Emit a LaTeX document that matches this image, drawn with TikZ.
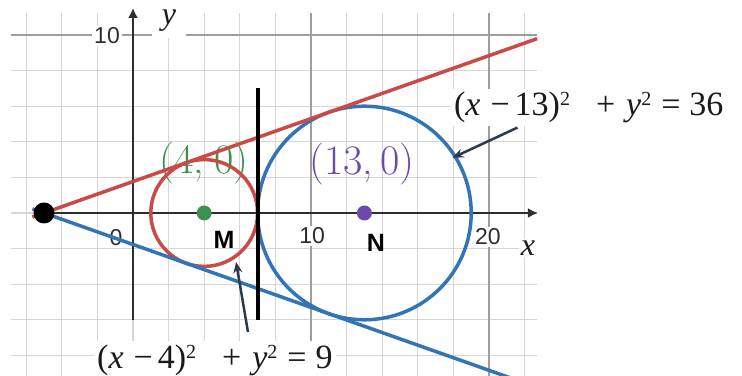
\documentclass[tikz,border=0pt]{standalone}
\usepackage{fontspec}
\newfontfamily\sansf{Liberation Sans}
\newfontfamily\eqf{Liberation Serif}
\usetikzlibrary{arrows.meta}
\definecolor{dred}{HTML}{C94B47}
\definecolor{dblue}{HTML}{3274B5}
\definecolor{dgreen}{HTML}{3F9150}
\definecolor{dpurple}{HTML}{6A4AAE}
\definecolor{minorc}{HTML}{D6D6D6}
\definecolor{majorc}{HTML}{9E9E9E}
\definecolor{axisc}{HTML}{2E2E2E}
\definecolor{navyc}{HTML}{2C3A4F}
\definecolor{eqc}{HTML}{1A1A1A}
\newcommand\sqd{\raisebox{10pt}{\fontsize{20}{20}\selectfont 2}}
\tikzset{
  ticklbl/.style={font=\sansf\fontsize{23}{23}\selectfont, text=axisc, fill=white, inner sep=2pt},
  axlbl/.style={font=\eqf\itshape\fontsize{32}{32}\selectfont, text=eqc, fill=white, inner sep=2pt},
  ptlbl/.style={font=\sansf\bfseries\fontsize{25}{25}\selectfont, text=black},
  coordlbl/.style={font=\fontsize{42}{50}\selectfont},
  eqlbl/.style={font=\eqf\fontsize{34}{40}\selectfont, text=eqc, fill=white, inner sep=3pt, anchor=base west},
  callout/.style={navyc, line width=2.5pt, -{Stealth[length=11pt,width=9pt]}},
  curve/.style={line width=3.5pt},
  minorgrid/.style={minorc, line width=1.2pt},
  majorgrid/.style={majorc, line width=1.2pt},
  axisline/.style={axisc, line width=2.2pt, -{Latex[length=10pt,width=10pt]}},
}
\begin{document}
\begin{tikzpicture}[x=17.8pt,y=17.8pt]
\useasboundingbox (-7.472,-9.157) rectangle (34.213,11.966);
\fill[white] (-7.472,-9.157) rectangle (34.213,11.966);
% grid
\foreach \gx in {-6,-4,...,22} \draw[minorgrid] (\gx,-9.3) -- (\gx,11.24);
\foreach \gy in {-8,-6,...,8} \draw[minorgrid] (-6.85,\gy) -- (22.7,\gy);
\foreach \gx in {10,20} \draw[majorgrid] (\gx,-9.3) -- (\gx,11.24);
\draw[majorgrid] (-6.85,10) -- (22.7,10);
% tick and axis labels
\node[ticklbl] (t10y) at (-1.46,9.94) {10};
\node[ticklbl] (t0) at (-0.96,-1.40) {0};
\node[ticklbl] (t10) at (10.06,-1.29) {10};
\node[ticklbl] (t20) at (19.94,-1.35) {20};
\node[axlbl] (xl) at (22.19,-1.97) {x};
\node[axlbl, minimum width=34pt, minimum height=34pt] (yl) at (2.02,10.79) {y};
% axes
\coordinate (P) at (-5,0);
\coordinate (M) at (4,0);
\coordinate (N) at (13,0);
\coordinate (xe) at (22.75,0);
\coordinate (ys) at (0,-6);
\coordinate (ye) at (0,11.52);
\draw[axisline] (P) -- (xe);
\draw[axisline] (ys) -- (ye);
% coordinate labels
\node[coordlbl, text=dgreen] (Mc) at (3.99,2.8) {(4,\hspace{0.25em}0)};
\node[coordlbl, text=dpurple] (Nc) at (12.87,2.75) {(13,\,0)};
% circles
\draw[dred, curve] (M) circle[radius=3];
\draw[dblue, curve] (N) circle[radius=6];
% tangent lines
\coordinate (r1) at (-5.65,-0.230);
\coordinate (r2) at (22.7,9.793);
\coordinate (b1) at (-5.65,0.230);
\coordinate (b2) at (21.5,-9.369);
\draw[dred, curve] (r1) -- (r2);
\draw[dblue, curve] (b1) -- (b2);
% common vertical tangent
\coordinate (v1) at (7,7.02);
\coordinate (v2) at (7,-6);
\draw[black, line width=4pt] (v1) -- (v2);
% points
\fill[black] (P) circle[radius=10.5pt];
\fill[dgreen] (M) circle[radius=7.5pt];
\fill[dpurple] (N) circle[radius=7.5pt];
\node[ptlbl] (Ml) at (5.11,-1.52) {M};
\node[ptlbl] (Nl) at (13.65,-1.69) {N};
% equations
\node[eqlbl] (e1) at (17.86,5.45) {(\textit{x}\hspace{10pt}−\hspace{5pt}13)\sqd\hspace{26pt}+\hspace{11pt}\textit{y}\sqd\hspace{10pt}=\hspace{9pt}36};
\node[eqlbl] (e2) at (-2.19,-8.71) {(\textit{x}\hspace{10pt}−\hspace{5pt}4)\sqd\hspace{26pt}+\hspace{11pt}\textit{y}\sqd\hspace{10pt}=\hspace{9pt}9};
% callouts
\coordinate (a1s) at (21.6,4.8);
\coordinate (a1e) at (17.95,3.1);
\coordinate (a2s) at (6.46,-6.69);
\coordinate (a2e) at (5.79,-2.75);
\draw[callout] (a1s) -- (a1e);
\draw[callout] (a2s) -- (a2e);
\end{tikzpicture}
\end{document}
